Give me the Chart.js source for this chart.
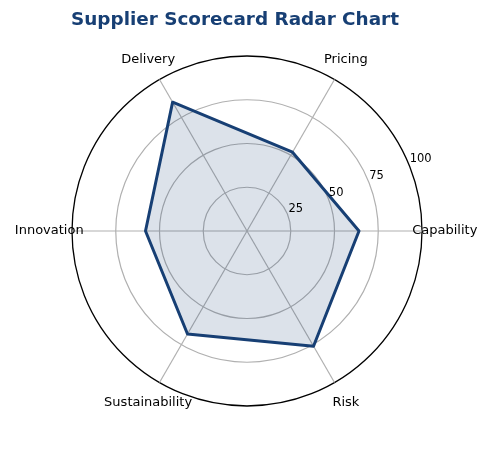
<!DOCTYPE HTML>
<html>
<head>
  <script src="https://cdn.jsdelivr.net/npm/chart.js"></script>
  <style>
    body { margin: 0; background: #fff; }
    #wrap { position: relative; width: 491px; height: 474px; }
    #title {
      position: absolute; left: 0; top: 8px; width: 470px; height: 40px;
      line-height: 40px; text-align: center;
      font: bold 18.4px "DejaVu Sans", sans-serif; color: #173f74;
    }
    canvas { position: absolute; left: 0; top: 0; }
  </style>
  <script>
    // Categories, counter-clockwise from the right (as in the picture)
    const categories = ["Capability", "Pricing", "Delivery", "Innovation", "Sustainability", "Risk"];
    const scores = [64, 52, 85, 58, 68, 76];
    const tickValues = [25, 50, 75, 100];

    // Chart.js goes clockwise, so keep the first one and reverse the rest
    const order = [0, 5, 4, 3, 2, 1];
    const labels = order.map(i => categories[i]);
    const values = order.map(i => scores[i]);

    // draws category labels and radial tick labels at matplotlib-like spots
    const labelPlugin = {
      id: 'labelPlugin',
      afterDraw(chart) {
        const scale = chart.scales.r;
        const ctx = chart.ctx;
        ctx.save();
        ctx.fillStyle = '#000';
        ctx.font = '13px "DejaVu Sans", sans-serif';
        ctx.textAlign = 'center';
        ctx.textBaseline = 'middle';
        const dist = scale.drawingArea * 1.13;
        labels.forEach((lab, i) => {
          const p = scale.getPointPosition(i, dist);
          ctx.fillText(lab, p.x, p.y);
        });
        ctx.font = '11.5px "DejaVu Sans", sans-serif';
        ctx.textAlign = 'left';
        ctx.textBaseline = 'bottom';
        const a = 22.5 * Math.PI / 180;
        tickValues.forEach(v => {
          const d = scale.getDistanceFromCenterForValue(v);
          const x = scale.xCenter + Math.cos(a) * d;
          const y = scale.yCenter - Math.sin(a) * d;
          ctx.fillText(String(v), x + 1, y + 1);
        });
        ctx.restore();
      }
    };

    window.onload = function() {
      const ctx = document.getElementById('myChart').getContext('2d');
      new Chart(ctx, {
        type: 'radar',
        data: {
          labels: labels,
          datasets: [{
            label: 'Supplier',
            data: values,
            borderColor: '#173f74',
            borderWidth: 3,
            borderJoinStyle: 'round',
            backgroundColor: 'rgba(23, 63, 116, 0.15)',
            fill: true,
            pointRadius: 0,
            pointHoverRadius: 0
          }]
        },
        options: {
          responsive: false,
          animation: false,
          devicePixelRatio: 1,
          layout: { padding: { left: 72, right: 69, top: 56, bottom: 68 } },
          plugins: { legend: { display: false }, tooltip: { enabled: false } },
          scales: {
            r: {
              min: 0,
              max: 100,
              startAngle: 90,
              ticks: { stepSize: 25, display: false },
              pointLabels: { display: false },
              grid: {
                circular: true,
                color: ctx => ctx.tick && ctx.tick.value === 100 ? '#000000' : '#b0b0b0',
                lineWidth: ctx => ctx.tick && ctx.tick.value === 100 ? 1.3 : 1.2
              },
              angleLines: { color: '#b0b0b0', lineWidth: 1.2 }
            }
          }
        },
        plugins: [labelPlugin]
      });
    };
  </script>
</head>
<body>
  <div id="wrap">
    <canvas id="myChart" width="491" height="474"></canvas>
    <div id="title">Supplier Scorecard Radar Chart</div>
  </div>
</body>
</html>
